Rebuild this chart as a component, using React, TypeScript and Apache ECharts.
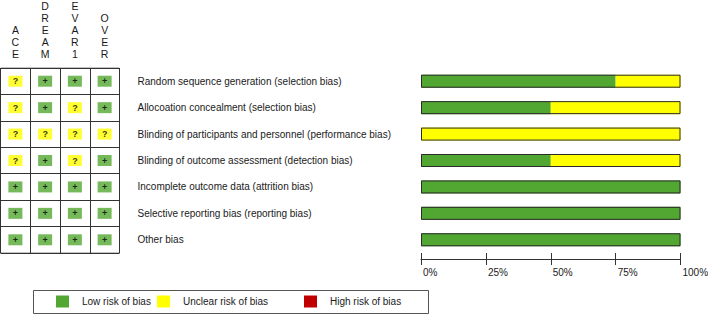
import React, { useEffect, useRef } from "react";
import * as echarts from "echarts";

// Studies (table columns) and risk-of-bias domains (table rows)
const studies = ["ACE", "DREAM", "EVAR1", "OVER"];
const domains = [
  "Random sequence generation (selection bias)",
  "Allocoation concealment (selection bias)",
  "Blinding of participants and personnel (performance bias)",
  "Blinding of outcome assessment (detection bias)",
  "Incomplete outcome data (attrition bias)",
  "Selective reporting bias (reporting bias)",
  "Other bias",
];

// Judgement per domain (row) and study (column): "+" low, "?" unclear, "-" high
const judgements = [
  ["?", "+", "+", "+"],
  ["?", "+", "?", "+"],
  ["?", "?", "?", "?"],
  ["?", "+", "?", "+"],
  ["+", "+", "+", "+"],
  ["+", "+", "+", "+"],
  ["+", "+", "+", "+"],
];

// Percentage of studies per domain in each risk category
const lowRisk = [75, 50, 0, 50, 100, 100, 100];
const unclearRisk = [25, 50, 100, 50, 0, 0, 0];
const highRisk = [0, 0, 0, 0, 0, 0, 0];

const seriesNames = ["Low risk of bias", "Unclear risk of bias", "High risk of bias"];

const GREEN = "#52a732";
const YELLOW = "#ffff00";
const RED = "#c00000";
const INK = "#1a1a1a";
const FONT = "'Liberation Sans', Arial, sans-serif";

const judgementColor: Record<string, string> = { "+": GREEN, "?": YELLOW, "-": RED };

export default function App() {
  const ref = useRef<HTMLDivElement>(null);

  useEffect(() => {
    if (!ref.current) return;
    const chart = echarts.init(ref.current, undefined, { renderer: "svg" });

    const cells: any[] = [];
    judgements.forEach((row, r) =>
      row.forEach((j, c) => {
        cells.push({ value: [c, r, j], itemStyle: { color: judgementColor[j] } });
      })
    );
    const outline = domains.map((_, i) => lowRisk[i] + unclearRisk[i] + highRisk[i]);

    const tableTop = 68;
    const tableHeight = 185;
    const barLeft = 421;
    const barWidth = 259.5;

    // one legend entry per component so each sits at its own x
    const legendLefts = [56, 157, 304];
    const legends = seriesNames.map((name, i) => ({
      left: legendLefts[i],
      top: 295.5,
      icon: "rect",
      itemWidth: 13,
      itemHeight: 12,
      padding: 0,
      selectedMode: false,
      textStyle: { fontSize: 10, color: INK, fontFamily: FONT, padding: [0, 0, 0, 8] },
      data: [name],
    }));

    chart.setOption({
      animation: false,
      textStyle: { fontFamily: FONT },
      grid: [
        {
          left: 0.5,
          top: tableTop,
          width: 119,
          height: tableHeight,
          show: true,
          borderColor: "#888",
          borderWidth: 1,
          outerBoundsMode: "none",
        },
        { left: barLeft, top: tableTop, width: barWidth, height: tableHeight, outerBoundsMode: "none" },
        { left: barLeft, top: tableTop, width: barWidth, height: tableHeight, outerBoundsMode: "none" },
      ],
      graphic: [
        {
          type: "rect",
          shape: { x: 33.5, y: 290.5, width: 395, height: 23 },
          style: { fill: "none", stroke: "#555", lineWidth: 1 },
          silent: true,
        },
      ],
      xAxis: [
        {
          gridIndex: 0,
          type: "category",
          data: studies,
          position: "top",
          axisLine: { show: false },
          axisTick: { show: false },
          axisLabel: {
            interval: 0,
            margin: 8,
            fontSize: 10.5,
            lineHeight: 12,
            color: INK,
            fontFamily: FONT,
            formatter: (s: string) => s.split("").join("\n"),
          },
          splitLine: { show: true, interval: 0, lineStyle: { color: "#333", width: 1 } },
        },
        {
          gridIndex: 1,
          type: "value",
          min: 0,
          max: 100,
          interval: 25,
          offset: 6,
          axisLine: { show: true, lineStyle: { color: "#333", width: 1 } },
          axisTick: { show: true, length: 6, lineStyle: { color: "#333" } },
          axisLabel: {
            formatter: "{value}%",
            align: "left",
            padding: [0, 0, 0, 2],
            margin: 8,
            fontSize: 10,
            color: INK,
            fontFamily: FONT,
          },
          splitLine: { show: false },
        },
        {
          gridIndex: 2,
          type: "value",
          min: 0,
          max: 100,
          interval: 25,
          offset: 6,
          axisLine: { show: false },
          axisTick: { show: true, inside: true, length: 6, lineStyle: { color: "#333" } },
          axisLabel: { show: false },
          splitLine: { show: false },
        },
      ],
      yAxis: [
        {
          gridIndex: 0,
          type: "category",
          data: domains,
          inverse: true,
          position: "right",
          axisLine: { show: false },
          axisTick: { show: false },
          axisLabel: { interval: 0, align: "left", margin: 18, fontSize: 10, color: INK, fontFamily: FONT },
          splitLine: { show: true, interval: 0, lineStyle: { color: "#333", width: 1 } },
        },
        { gridIndex: 1, type: "category", data: domains, inverse: true, show: false },
        { gridIndex: 2, type: "category", data: domains, inverse: true, show: false },
      ],
      legend: legends,
      series: [
        {
          type: "scatter",
          xAxisIndex: 0,
          yAxisIndex: 0,
          symbol: "rect",
          symbolSize: [14, 11],
          data: cells,
          label: {
            show: true,
            position: "inside",
            formatter: (p: any) => p.value[2],
            fontSize: 9,
            fontWeight: "bold",
            color: "#000",
            fontFamily: FONT,
          },
        },
        {
          name: seriesNames[0],
          type: "bar",
          stack: "risk",
          xAxisIndex: 1,
          yAxisIndex: 1,
          barWidth: 13,
          data: lowRisk,
          itemStyle: { color: GREEN },
        },
        {
          name: seriesNames[1],
          type: "bar",
          stack: "risk",
          xAxisIndex: 1,
          yAxisIndex: 1,
          barWidth: 13,
          data: unclearRisk,
          itemStyle: { color: YELLOW },
        },
        {
          name: seriesNames[2],
          type: "bar",
          stack: "risk",
          xAxisIndex: 1,
          yAxisIndex: 1,
          barWidth: 13,
          data: highRisk,
          itemStyle: { color: RED },
        },
        {
          type: "bar",
          xAxisIndex: 1,
          yAxisIndex: 1,
          barWidth: 13,
          barGap: "-100%",
          silent: true,
          z: 3,
          data: outline,
          itemStyle: { color: "rgba(0,0,0,0)", borderColor: "#2b2b2b", borderWidth: 1 },
        },
      ],
    });

    return () => chart.dispose();
  }, []);

  return (
    <div
      ref={ref}
      style={{ position: "absolute", left: 0, top: 0, width: 708, height: 314, background: "#fff" }}
    />
  );
}
